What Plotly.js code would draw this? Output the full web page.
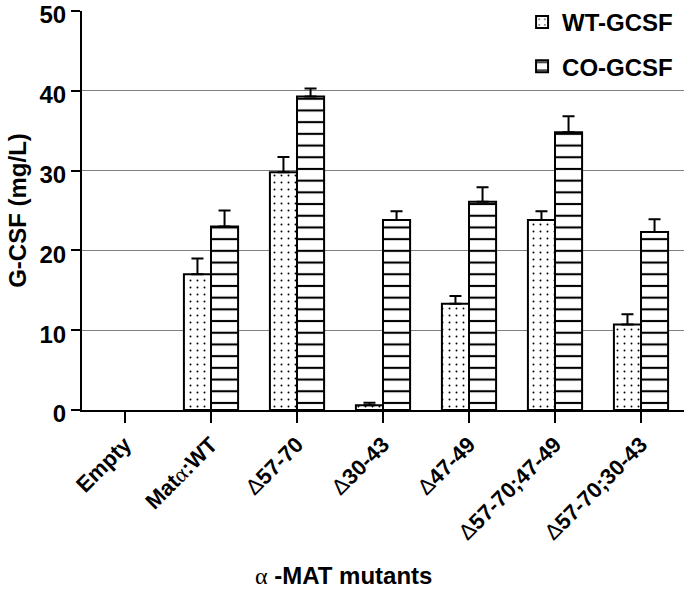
<!DOCTYPE html>
<html>
<head>
<meta charset="utf-8">
<script src="https://cdn.plot.ly/plotly-3.0.1.min.js"></script>
<style>html,body{margin:0;padding:0;background:#fff;}#chart{width:685px;height:591px;}</style>
</head>
<body>
<div id="chart"></div>
<script>
var categories = ["Empty", "Matα:WT", "Δ57-70", "Δ30-43", "Δ47-49", "Δ57-70;47-49", "Δ57-70;30-43"];
var wtValues = [null, 17.0, 29.8, 0.6, 13.3, 23.8, 10.7];
var wtErrors = [0, 2.0, 1.9, 0.3, 1.0, 1.1, 1.3];
var coValues = [null, 23.0, 39.3, 23.8, 26.1, 34.8, 22.3];
var coErrors = [0, 2.0, 1.0, 1.1, 1.8, 2.0, 1.6];
var yTicks = [0, 10, 20, 30, 40, 50];
var xTitle = '<span style="font-weight:normal;font-family:Liberation Serif">α</span> -MAT mutants';
var yTitle = 'G-CSF (mg/L)';

function fmtLabel(s) {
  return s.replace(/Δ/g, '<span style="font-weight:normal">Δ</span>')
          .replace(/α/g, '<span style="font-weight:normal;font-family:Liberation Serif">α</span>');
}
var tickText = categories.map(fmtLabel);
var zeros = categories.map(function(){ return 0; });

var font = 'Arial, "Liberation Sans", sans-serif';

var traces = [
  {
    type: 'bar', name: 'WT-GCSF', x: categories, y: wtValues, legendgroup: 'a',
    marker: {color: 'white', line: {color: 'black', width: 2},
      pattern: {shape: '.', size: 7, solidity: 0.06, fgcolor: 'black', bgcolor: 'white', fillmode: 'replace'}},
    error_y: {type: 'data', symmetric: false, array: wtErrors, arrayminus: zeros, color: 'black', thickness: 2, width: 6}
  },
  {
    type: 'bar', name: 'CO-GCSF', x: categories, y: coValues, legendgroup: 'b',
    marker: {color: 'white', line: {color: 'black', width: 2},
      pattern: {shape: '-', size: 11.7, solidity: 0.18, fgcolor: 'black', bgcolor: 'white', fillmode: 'replace'}},
    error_y: {type: 'data', symmetric: false, array: coErrors, arrayminus: zeros, color: 'black', thickness: 2, width: 6}
  }
];

var layout = {
  width: 685, height: 591,
  margin: {l: 82, r: 1, t: 10, b: 181},
  paper_bgcolor: 'white', plot_bgcolor: 'white',
  font: {family: font, color: 'black'},
  barmode: 'group', bargap: 0.37, bargroupgap: 0,
  showlegend: true,
  legend: {x: 0.731, xanchor: 'left', y: 1.025, yanchor: 'top',
    font: {size: 24, weight: 'bold', family: font},
    traceorder: 'grouped', tracegroupgap: 10, bgcolor: 'rgba(0,0,0,0)'},
  xaxis: {
    type: 'category', range: [-0.5, 6.5], automargin: false,
    tickmode: 'array', tickvals: categories, ticktext: tickText,
    tickangle: -45, tickfont: {size: 22, weight: 'bold', family: font},
    ticks: 'outside', ticklen: 11, tickwidth: 2, tickcolor: 'black',
    showline: true, linewidth: 2, linecolor: 'black', showgrid: false
  },
  yaxis: {
    range: [0, 50], tickmode: 'array', tickvals: yTicks, automargin: false,
    tickfont: {size: 24, weight: 'bold', family: font},
    ticks: 'outside', ticklen: 9, tickwidth: 2, tickcolor: 'black',
    ticklabeloverflow: 'allow', ticklabelshift: 4,
    showline: true, linewidth: 2, linecolor: 'black',
    showgrid: true, gridcolor: '#808080', gridwidth: 1, zeroline: false,
    title: {text: yTitle, font: {size: 24, weight: 'bold', family: font}, standoff: 6}
  },
  annotations: [{
    text: xTitle, xref: 'paper', yref: 'paper', x: 0.435, y: -0.415,
    xanchor: 'center', yanchor: 'middle', showarrow: false,
    font: {size: 24, weight: 'bold', family: font, color: 'black'}
  }]
};

Plotly.newPlot('chart', traces, layout, {displayModeBar: false, staticPlot: true});
</script>
</body>
</html>
